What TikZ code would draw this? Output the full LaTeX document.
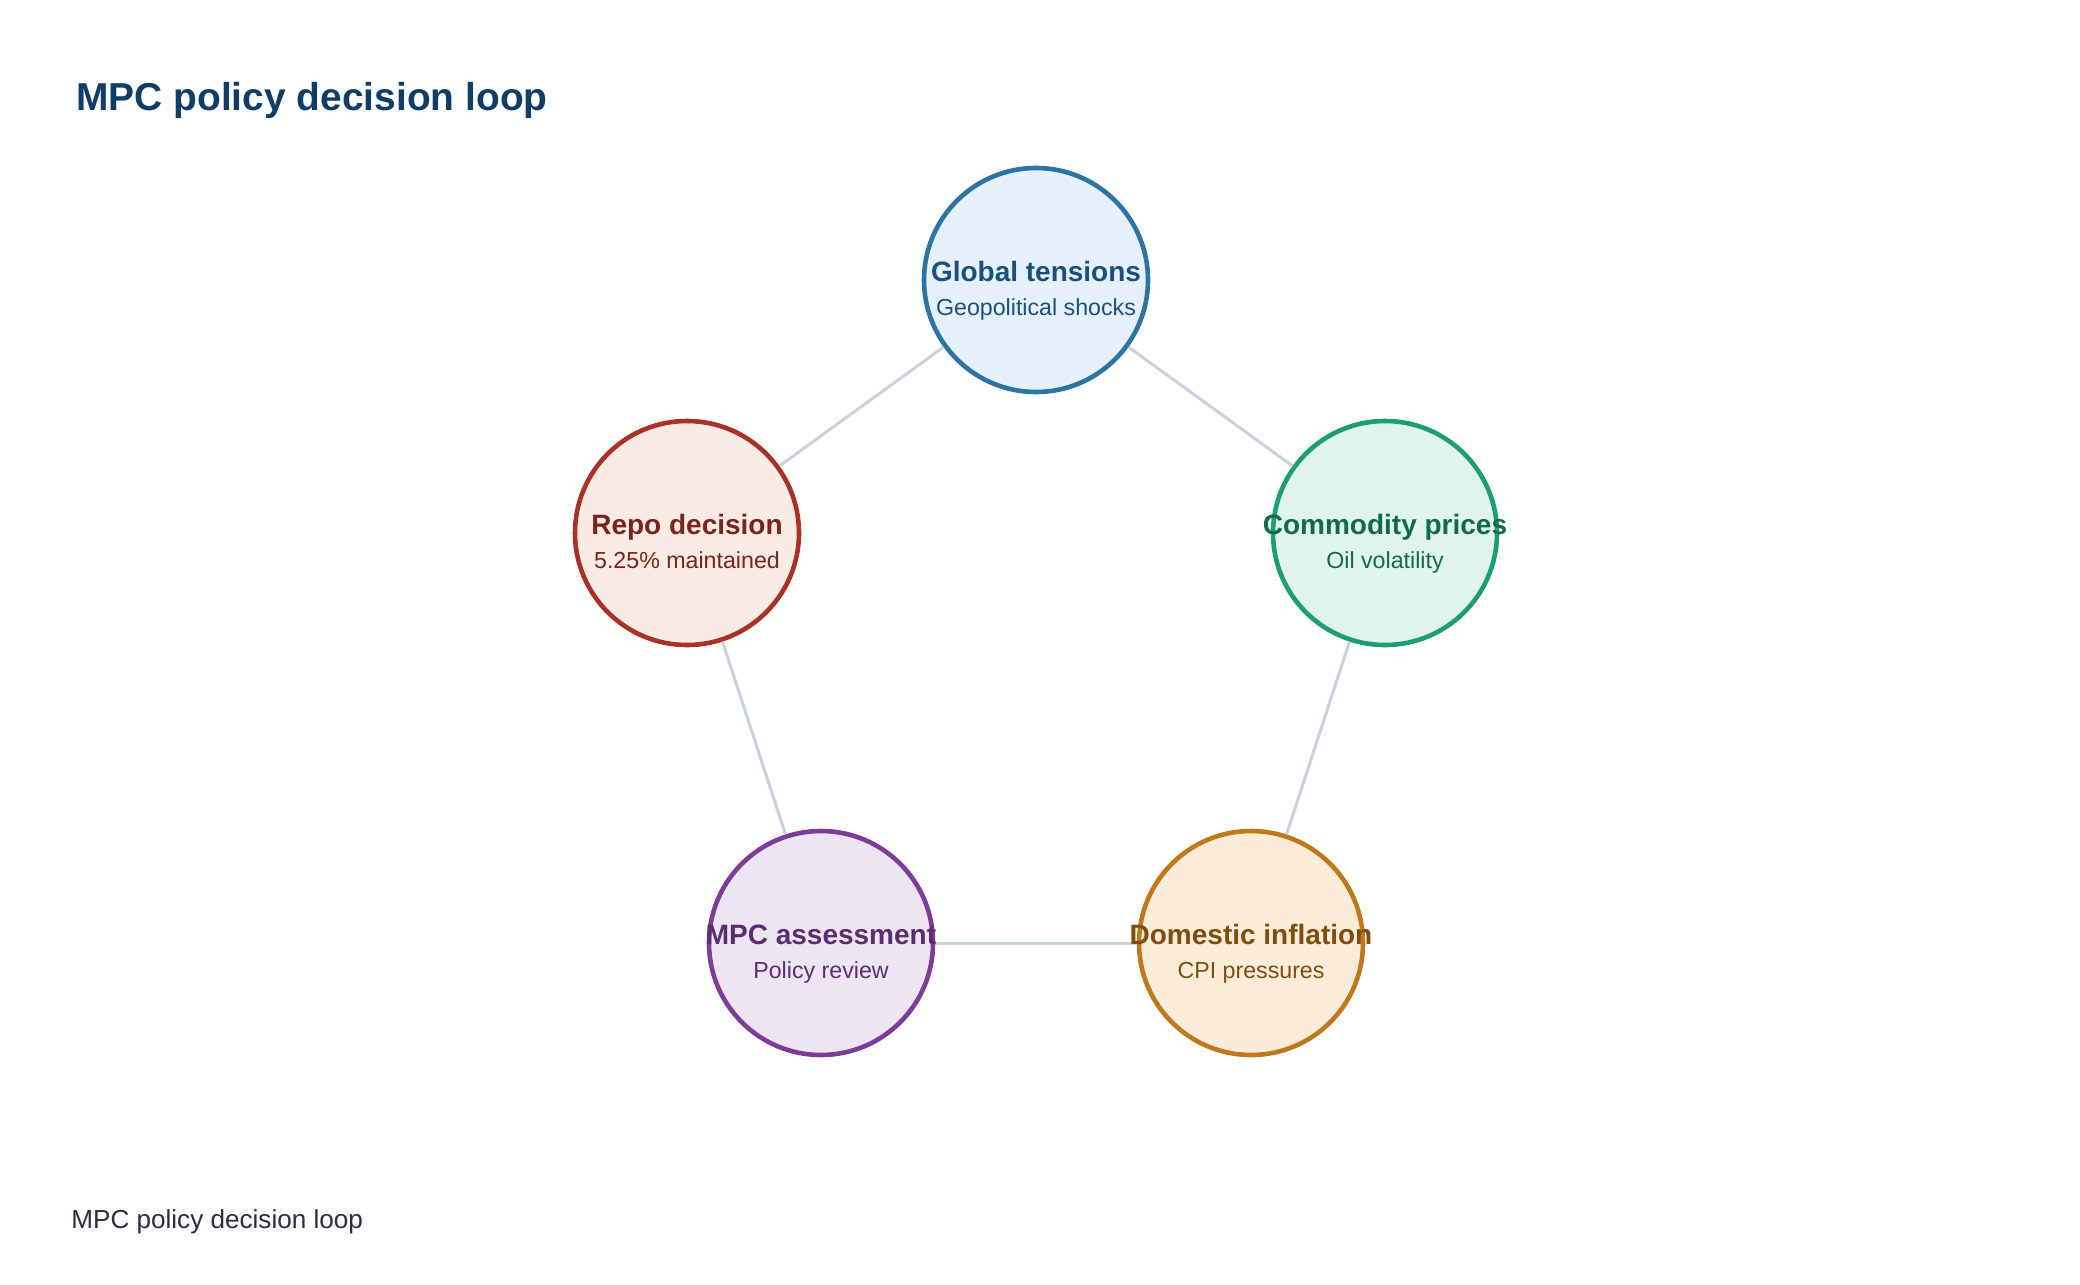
\documentclass[tikz,border=0pt]{standalone}
\usepackage{fontspec}
\setmainfont{Liberation Sans}
\definecolor{titlecol}{HTML}{0F3D66}
\definecolor{footcol}{HTML}{2B2D42}
\definecolor{edgecol}{HTML}{C8D1DC}
\definecolor{gStroke}{HTML}{2C73A6}\definecolor{gFill}{HTML}{E6F0FA}\definecolor{gText}{HTML}{1B4F7E}
\definecolor{rStroke}{HTML}{A93226}\definecolor{rFill}{HTML}{F8EBE6}\definecolor{rText}{HTML}{7B241C}
\definecolor{cStroke}{HTML}{1D9E72}\definecolor{cFill}{HTML}{E0F3EC}\definecolor{cText}{HTML}{0E6B4B}
\definecolor{mStroke}{HTML}{7D3C98}\definecolor{mFill}{HTML}{EEE5F4}\definecolor{mText}{HTML}{5B2C6F}
\definecolor{dStroke}{HTML}{BF781A}\definecolor{dFill}{HTML}{FAECD9}\definecolor{dText}{HTML}{7E4D0F}
\begin{document}
\begin{tikzpicture}[x=0.5pt,y=-0.5pt,
  disc/.style={circle,draw=#1Stroke,fill=#1Fill,line width=2.3pt,minimum size=112pt,inner sep=0pt},
  headtxt/.style={anchor=base,inner sep=0pt,text=#1Text,font=\fontsize{14pt}{16pt}\selectfont\bfseries},
  subtxt/.style={anchor=base,inner sep=0pt,text=#1Text,font=\fontsize{11.6pt}{14pt}\selectfont},
  link/.style={draw=edgecol,line width=1.5pt}]
\useasboundingbox (0,0) rectangle (2080,1284);
\fill[white] (0,0) rectangle (2080,1284);
\node[anchor=base west,inner sep=0pt,text=titlecol,font=\fontsize{19.45pt}{22pt}\selectfont\bfseries] (title) at (76,110.5) {MPC policy decision loop};
\node[anchor=base west,inner sep=0pt,text=footcol,font=\fontsize{13.05pt}{15pt}\selectfont] (footer) at (71,1228) {MPC policy decision loop};
% circles
\node[disc=g] (global) at (1036,280) {};
\node[disc=c] (commodity) at (1385,533) {};
\node[disc=d] (domestic) at (1251,943) {};
\node[disc=m] (mpc) at (821,943) {};
\node[disc=r] (repo) at (687,533) {};
% connectors
\draw[link] (global) -- (commodity);
\draw[link] (commodity) -- (domestic);
\draw[link] (domestic) -- (mpc);
\draw[link] (mpc) -- (repo);
\draw[link] (repo) -- (global);
% labels
\node[headtxt=g] (globalH) at (1036,281) {Global tensions};
\node[subtxt=g] (globalS) at (1036,315) {Geopolitical shocks};
\node[headtxt=c] (commodityH) at (1385,534) {Commodity prices};
\node[subtxt=c] (commodityS) at (1385,568) {Oil volatility};
\node[headtxt=d] (domesticH) at (1251,944) {Domestic inflation};
\node[subtxt=d] (domesticS) at (1251,978) {CPI pressures};
\node[headtxt=m] (mpcH) at (821,944) {MPC assessment};
\node[subtxt=m] (mpcS) at (821,978) {Policy review};
\node[headtxt=r] (repoH) at (687,534) {Repo decision};
\node[subtxt=r] (repoS) at (687,568) {5.25\% maintained};
\end{tikzpicture}
\end{document}
